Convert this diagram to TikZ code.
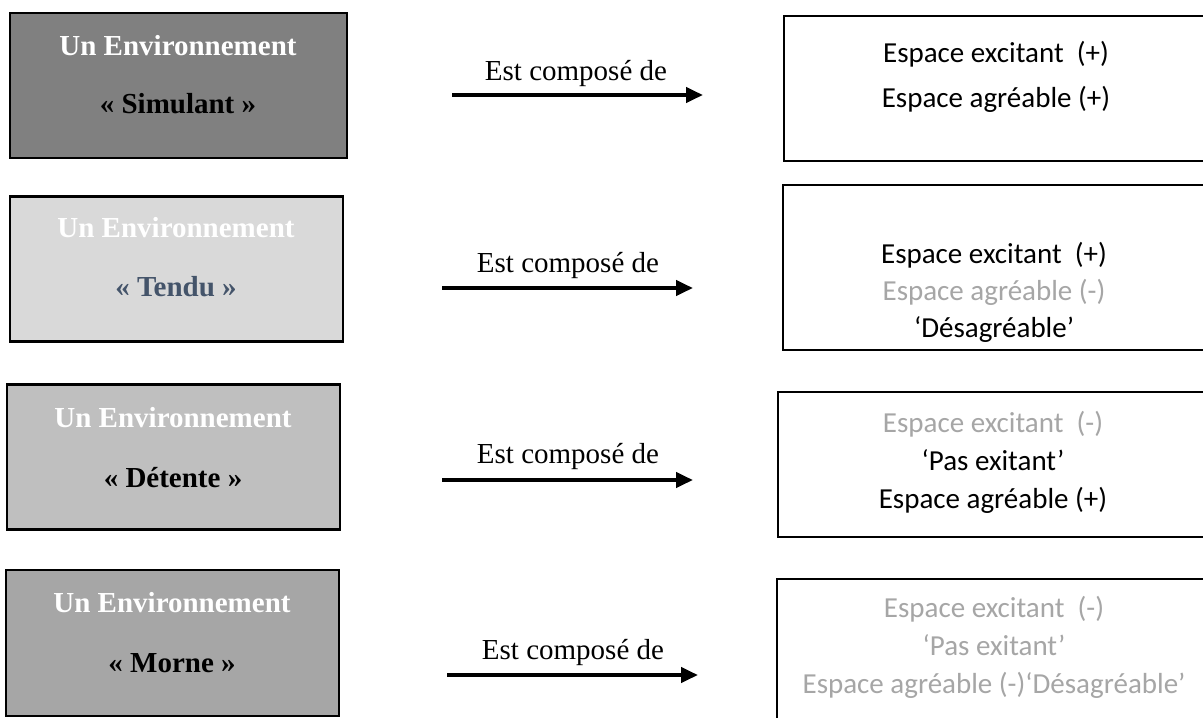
\documentclass[tikz,border=0pt]{standalone}
\usepackage{fontspec}
\setmainfont{Liberation Serif}
\newfontfamily\calfont{Carlito}
\usetikzlibrary{arrows.meta}

\definecolor{fillSim}{HTML}{808080}
\definecolor{fillTen}{HTML}{D9D9D9}
\definecolor{fillDet}{HTML}{BFBFBF}
\definecolor{fillMor}{HTML}{A6A6A6}
\definecolor{tenduText}{HTML}{44546A}
\definecolor{faded}{HTML}{A6A6A6}

\tikzset{
  envbox/.style={draw=black, line width=2.7pt, inner sep=0pt, outer sep=0pt},
  envtitle/.style={anchor=base, inner sep=0pt, font=\fontsize{29}{35}\selectfont\bfseries},
  spacebox/.style={draw=black, line width=2.5pt, fill=white, inner sep=0pt, outer sep=0pt},
  spaceline/.style={anchor=base, inner sep=0pt, font=\calfont\fontsize{29}{35}\selectfont},
  link/.style={line width=4pt, -{Triangle[length=17pt,width=15pt]}},
  linklabel/.style={anchor=base, inner sep=0pt, font=\fontsize{29}{35}\selectfont}
}

\begin{document}
\begin{tikzpicture}[x=1pt, y=-1pt]
\useasboundingbox (0,0) rectangle (1203,718);
\clip (0,0) rectangle (1203,718);
\fill[white] (0,0) rectangle (1203,718);

% environment boxes (left column)
\node[envbox, fill=fillSim, minimum width=337pt, minimum height=145pt] (env1) at (178.5,85.5) {};
\node[envbox, fill=fillTen, minimum width=333pt, minimum height=145pt] (env2) at (176.5,269) {};
\node[envbox, fill=fillDet, minimum width=333pt, minimum height=145pt] (env3) at (173.5,457) {};
\node[envbox, fill=fillMor, minimum width=333pt, minimum height=146pt] (env4) at (172.5,643) {};

\node[envtitle, text=white] (env1a) at (178,55) {Un Environnement};
\node[envtitle, text=black] (env1b) at (178,113) {« Simulant »};
\node[envtitle, text=white] (env2a) at (176,237) {Un Environnement};
\node[envtitle, text=tenduText] (env2b) at (176,296) {« Tendu »};
\node[envtitle, text=white] (env3a) at (173,427) {Un Environnement};
\node[envtitle, text=black] (env3b) at (173,487) {« Détente »};
\node[envtitle, text=white] (env4a) at (172,612) {Un Environnement};
\node[envtitle, text=black] (env4b) at (172,672) {« Morne »};

% component boxes (right column)
\node[spacebox, minimum width=430pt, minimum height=145pt] (sp1) at (999,88.5) {};
\node[spacebox, minimum width=430pt, minimum height=165pt] (sp2) at (998,267.5) {};
\node[spacebox, minimum width=435pt, minimum height=145pt] (sp3) at (995.5,464.5) {};
\node[spacebox, minimum width=435pt, minimum height=160pt] (sp4) at (994.5,659) {};

\node[spaceline] (sp1a) at (996,62) {Espace excitant\ \ (+)};
\node[spaceline] (sp1b) at (996,107) {Espace agréable (+)};

\node[spaceline] (sp2a) at (994,263) {Espace excitant\ \ (+)};
\node[spaceline, text=faded] (sp2b) at (994,300) {Espace agréable (-)};
\node[spaceline] (sp2c) at (994,337) {‘Désagréable’};

\node[spaceline, text=faded] (sp3a) at (993,432) {Espace excitant\ \ (-)};
\node[spaceline] (sp3b) at (993,470) {‘Pas exitant’};
\node[spaceline] (sp3c) at (993,508) {Espace agréable (+)};

\node[spaceline, text=faded] (sp4a) at (994,617) {Espace excitant\ \ (-)};
\node[spaceline, text=faded] (sp4b) at (994,655) {‘Pas exitant’};
\node[spaceline, text=faded] (sp4c) at (994,693) {Espace agréable (-)‘Désagréable’};

% "Est composé de" links
\coordinate (l1s) at (452,95);  \coordinate (l1e) at (703,95);
\coordinate (l2s) at (442,288); \coordinate (l2e) at (693,288);
\coordinate (l3s) at (442,480); \coordinate (l3e) at (693,480);
\coordinate (l4s) at (447,675); \coordinate (l4e) at (698,675);

\draw[link] (l1s) -- (l1e);
\draw[link] (l2s) -- (l2e);
\draw[link] (l3s) -- (l3e);
\draw[link] (l4s) -- (l4e);

\node[linklabel] (t1) at (576,80)  {Est composé de};
\node[linklabel] (t2) at (568,272) {Est composé de};
\node[linklabel] (t3) at (568,463) {Est composé de};
\node[linklabel] (t4) at (573,659) {Est composé de};
\end{tikzpicture}
\end{document}
